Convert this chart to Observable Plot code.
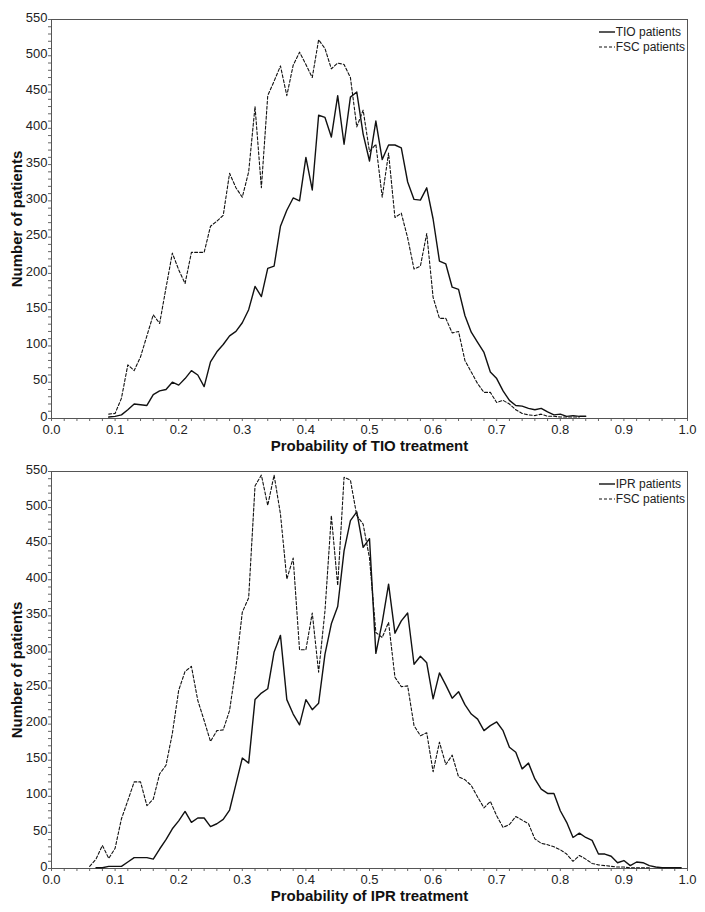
<!DOCTYPE html>
<html>
<head>
<meta charset="utf-8">
<script src="https://cdn.jsdelivr.net/npm/d3@7"></script>
<script src="https://cdn.jsdelivr.net/npm/@observablehq/plot@0.6"></script>
<style>
  body { margin: 0; background: #fff; }
  .panel { position: relative; width: 705px; height: 456px; }
  .panel svg [aria-label="x-axis label"] text,
  .panel svg [aria-label="y-axis label"] text { font-weight: bold; font-size: 15px; fill: #111; }
  .legend { position: absolute; right: 20px; font: 12px "Liberation Sans Narrow", "Arial Narrow", "Liberation Sans", sans-serif; color: #222; }
  .legend div { display: flex; align-items: center; height: 15px; }
  .legend svg { margin-right: 1px; }
</style>
</head>
<body>
<div id="chart"></div>
<script>
// Bin step of propensity score histograms
const binStep = 0.01;

// Top panel: TIO vs FSC
const tioStart = 0.09;
const tioValues = [2,3,5,12,20,19,18,33,38,40,50,46,55,66,60,44,78,92,102,114,120,132,150,182,168,207,210,265,287,304,300,360,315,418,415,388,445,378,443,450,392,355,410,357,377,377,373,326,302,301,318,275,217,213,181,178,142,119,105,91,64,55,38,25,18,17,14,12,14,9,5,6,3,4,3,3];
const fscTopStart = 0.09;
const fscTopValues = [6,7,28,74,66,85,114,143,131,180,228,205,186,229,229,229,265,272,280,338,318,305,340,430,318,445,465,486,445,487,505,488,470,522,510,482,490,488,470,402,425,368,378,305,366,277,283,249,206,210,255,167,138,138,118,120,80,64,48,36,36,22,25,20,12,7,5,4,6,3,3,2,2,2,2];

// Bottom panel: IPR vs FSC
const iprStart = 0.07;
const iprValues = [1,1,3,3,3,9,15,15,15,13,27,40,55,66,79,64,70,70,58,62,68,81,117,153,146,234,243,249,300,323,234,214,199,234,220,229,297,339,363,440,482,494,445,457,298,341,394,326,343,354,283,294,285,235,271,254,236,245,227,214,207,191,198,203,191,168,161,138,146,124,110,104,104,80,64,43,49,43,39,20,20,17,8,11,4,9,8,4,2,1,1,1,1];
const fscBotStart = 0.06;
const fscBotValues = [3,13,32,14,28,69,94,120,120,87,96,131,143,187,247,273,280,233,205,176,191,192,219,279,355,375,530,545,503,545,491,401,430,303,303,354,272,357,489,392,542,538,489,477,430,327,320,341,265,252,253,198,184,188,134,175,144,157,127,123,115,99,84,93,73,57,61,72,67,62,41,35,33,30,26,20,10,18,13,7,5,4,3,2,2,1,1,1,1];

const yTicks = [0,50,100,150,200,250,300,350,400,450,500,550];
const xTicks = [0,0.1,0.2,0.3,0.4,0.5,0.6,0.7,0.8,0.9,1.0];

const toRows = (start, vals) => vals.map((v, i) => ({p: +(start + i * binStep).toFixed(2), n: v}));

const FONT = '"Liberation Sans Narrow", "Arial Narrow", "Liberation Sans", sans-serif';

function panel(opts) {
  const {treated, tStart, tVals, cStart, cVals, xLabel, marginTop, marginBottom, legendTop} = opts;
  const wrap = document.createElement("div");
  wrap.className = "panel";
  const svg = Plot.plot({
    width: 705,
    height: 456,
    marginLeft: 51,
    marginRight: 18,
    marginTop,
    marginBottom,
    style: {fontFamily: FONT, fontSize: "13px", color: "#222", background: "#fff"},
    x: {domain: [0, 1]},
    y: {domain: [0, 550]},
    marks: [
      Plot.axisX({ticks: d3.range(0, 1.001, 0.02), tickSize: 3, text: null, label: null, stroke: "#666"}),
      Plot.axisX({ticks: xTicks, tickSize: 0, tickPadding: 6, tickFormat: d3.format(".1f"),
        label: xLabel, labelAnchor: "center", labelArrow: "none", labelOffset: 32}),
      Plot.axisY({ticks: d3.range(0, 551, 10), tickSize: 3, text: null, label: null, stroke: "#666"}),
      Plot.axisY({ticks: yTicks, tickSize: 0, tickPadding: 4, dy: -2,
        label: "Number of patients", labelAnchor: "center", labelArrow: "none", labelOffset: 40}),
      Plot.frame({stroke: "#555"}),
      Plot.line(toRows(cStart, cVals), {x: "p", y: "n", stroke: "#111", strokeWidth: 1.1, strokeDasharray: "3,2"}),
      Plot.line(toRows(tStart, tVals), {x: "p", y: "n", stroke: "#111", strokeWidth: 1.4})
    ]
  });
  wrap.appendChild(svg);
  const leg = document.createElement("div");
  leg.className = "legend";
  leg.style.top = legendTop + "px";
  leg.innerHTML =
    `<div><svg width="16" height="4"><line x1="0" x2="16" y1="2" y2="2" stroke="#111" stroke-width="1.4"/></svg>${treated} patients</div>` +
    `<div><svg width="16" height="4"><line x1="0" x2="16" y1="2" y2="2" stroke="#111" stroke-width="1.1" stroke-dasharray="3,2"/></svg>FSC patients</div>`;
  wrap.appendChild(leg);
  return wrap;
}

const chart = document.getElementById("chart");
chart.appendChild(panel({treated: "TIO", tStart: tioStart, tVals: tioValues, cStart: fscTopStart, cVals: fscTopValues,
  xLabel: "Probability of TIO treatment", marginTop: 19, marginBottom: 38, legendTop: 24}));
chart.appendChild(panel({treated: "IPR", tStart: iprStart, tVals: iprValues, cStart: fscBotStart, cVals: fscBotValues,
  xLabel: "Probability of IPR treatment", marginTop: 15, marginBottom: 44, legendTop: 20}));
</script>
</body>
</html>
